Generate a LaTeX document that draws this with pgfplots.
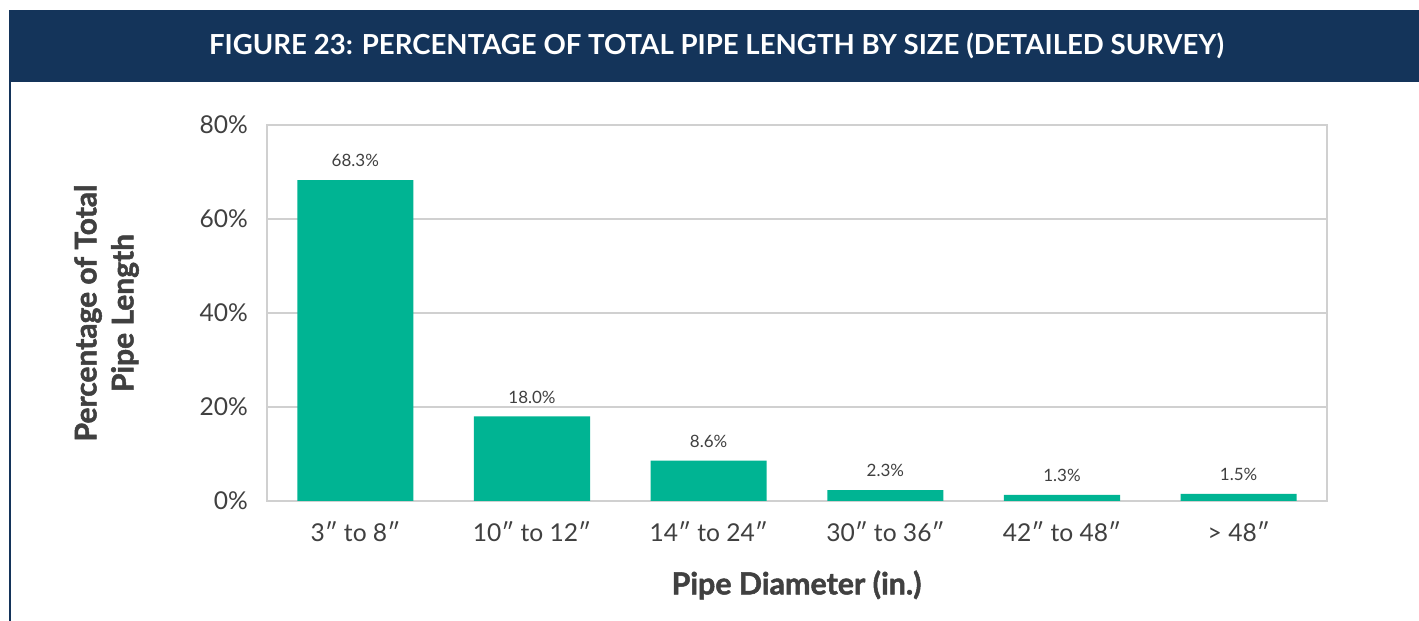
\documentclass[border=0pt]{standalone}
\usepackage{pgfplots}
\pgfplotsset{compat=1.18}
\usepackage{fontspec}
\setmainfont{Lato}
\newfontfamily\heavy{Lato}[UprightFont=*-Bold,FakeBold=1.6]
\definecolor{navy}{HTML}{14345A}
\definecolor{bar}{HTML}{00B493}
\definecolor{txt}{HTML}{404040}
\definecolor{gridc}{HTML}{D0D0D0}
\begin{document}
\begin{tikzpicture}
\fill[white] (0pt,0pt) rectangle (709.5pt,310.5pt);
\fill[navy] (4.5pt,269.5pt) rectangle (709.5pt,305.5pt);
\fill[navy] (4.6pt,0pt) rectangle (5.7pt,269.5pt);
\node[white,font=\fontsize{13.8}{16}\selectfont\bfseries] at (358.25pt,287.5pt) {FIGURE 23: PERCENTAGE OF TOTAL PIPE LENGTH BY SIZE (DETAILED SURVEY)};
\begin{axis}[
  at={(133.5pt,60pt)}, anchor=south west,
  scale only axis, width=530pt, height=188pt,
  xmin=-0.5, xmax=5.5, ymin=0, ymax=80,
  ytick={0,20,40,60,80},
  xtick=data,
  xticklabels={3″ to 8″,10″ to 12″,14″ to 24″,30″ to 36″,42″ to 48″,> 48″},
  yticklabel={\pgfmathprintnumber{\tick}\%},
  /pgf/number format/assume math mode=true,
  ymajorgrids, grid style={gridc,line width=0.6pt},
  axis line style={gridc,line width=0.6pt},
  major tick length=0pt,
  tick label style={txt,font=\fontsize{12.3}{14}\selectfont},
  xticklabel style={yshift=-7pt},
  yticklabel style={xshift=-6pt},
  ybar, bar width=0.657,
  nodes near coords={\pgfmathprintnumber[fixed,fixed zerofill,precision=1]{\pgfplotspointmeta}\%},
  nodes near coords style={txt,font=\fontsize{8.5}{10}\selectfont,yshift=3pt},
]
\addplot[fill=bar,draw=none] coordinates {(0,68.3) (1,18.0) (2,8.6) (3,2.3) (4,1.3) (5,1.5)};
\end{axis}
\node[txt,font=\fontsize{15.2}{16}\selectfont\heavy] at (398.25pt,18pt) {Pipe Diameter (in.)};
\node[txt,font=\fontsize{15}{18.5}\selectfont\heavy,rotate=90,align=center] at (53.25pt,154pt) {Percentage of Total\\Pipe Length};
\end{tikzpicture}
\end{document}
